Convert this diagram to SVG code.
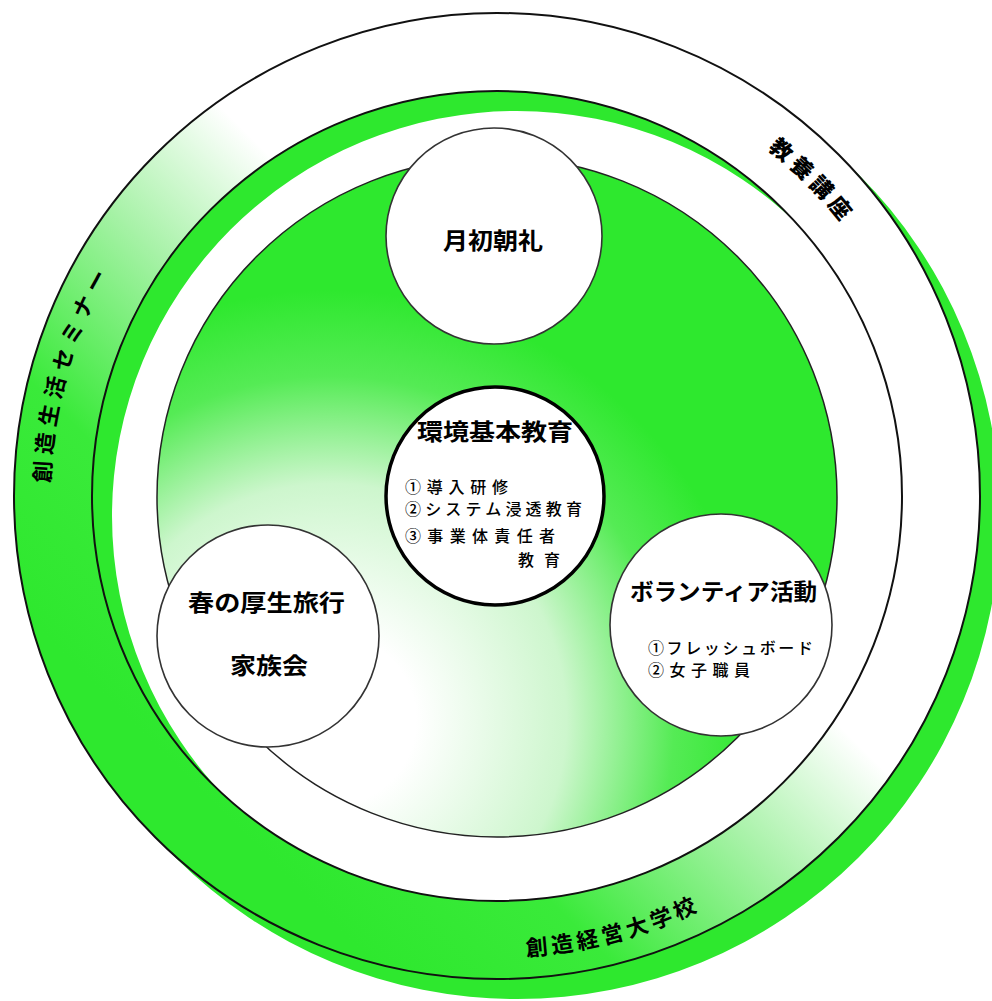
<svg xmlns="http://www.w3.org/2000/svg" width="992" height="1001" viewBox="0 0 992 1001">
<style>
text{font-family:"Noto Sans CJK JP","Noto Sans CJK SC",sans-serif;fill:#000}
.h{font-weight:700;font-size:23px}
.s{font-weight:500;font-size:16px}
.arc{font-weight:700;font-size:22px}
.node{fill:#fff;stroke:#333;stroke-width:1.6}
</style>
<defs>
<linearGradient id="gBand" gradientUnits="userSpaceOnUse" x1="200" y1="790" x2="600" y2="390">
<stop offset="0" stop-color="#2ee82e"/>
<stop offset="0.3" stop-color="#3aea3a"/>
<stop offset="0.62" stop-color="#a8f2a8"/>
<stop offset="0.88" stop-color="#ffffff"/>
<stop offset="1" stop-color="#ffffff"/>
</linearGradient>
<radialGradient id="gDisk" gradientUnits="userSpaceOnUse" cx="330" cy="720" r="430">
<stop offset="0" stop-color="#ffffff"/>
<stop offset="0.2" stop-color="#ffffff"/>
<stop offset="0.55" stop-color="#cdf6cd"/>
<stop offset="0.8" stop-color="#55eb55"/>
<stop offset="1" stop-color="#2ee82e"/>
</radialGradient>
<path id="pLeft" d="M 63.3,604.1 A 447,447 0 0,1 186.5,174.5" fill="none"/>
<path id="pBottom" d="M 377.7,941.3 A 461,461 0 0,0 823,822" fill="none"/>
<path id="pTop" d="M 610.9,71 A 440,440 0 0,1 922,382.1" fill="none"/>
</defs>

<g id="outer-ring">
<path transform="translate(20,20)" fill="#2ee82e" fill-rule="evenodd" d="M 14,496 A 483,483 0 1,0 980,496 A 483,483 0 1,0 14,496 Z M 92,496 A 405,405 0 1,1 902,496 A 405,405 0 1,1 92,496 Z"/>
<path fill="url(#gBand)" fill-rule="evenodd" stroke="#111" stroke-width="2" d="M 14,496 A 483,483 0 1,0 980,496 A 483,483 0 1,0 14,496 Z M 92,496 A 405,405 0 1,1 902,496 A 405,405 0 1,1 92,496 Z"/>
<text class="arc" letter-spacing="6"><textPath href="#pLeft" startOffset="50%" text-anchor="middle">創造生活セミナー</textPath></text>
<text class="arc" font-size="24" letter-spacing="4"><textPath href="#pBottom" startOffset="50%" text-anchor="middle">創造経営大学校</textPath></text>
<text class="arc" style="font-weight:900" letter-spacing="5"><textPath href="#pTop" startOffset="50%" text-anchor="middle">教養講座</textPath></text>
</g>

<g id="green-disk">
<circle cx="497" cy="497" r="340" fill="url(#gDisk)" stroke="#222" stroke-width="1.5"/>
</g>

<g id="node-gessho">
<circle class="node" cx="494" cy="236" r="108"/>
<text class="h" x="443" y="249" textLength="100" lengthAdjust="spacingAndGlyphs">月初朝礼</text>
</g>

<g id="node-center">
<circle cx="495" cy="496" r="109" fill="#fff" stroke="#000" stroke-width="3.5"/>
<text class="h" x="417" y="440" textLength="156" lengthAdjust="spacingAndGlyphs">環境基本教育</text>
<text class="s" x="405" y="493" textLength="103" lengthAdjust="spacing">①導入研修</text>
<text class="s" x="405" y="515" textLength="177" lengthAdjust="spacing">②システム浸透教育</text>
<text class="s" x="405" y="542" textLength="150" lengthAdjust="spacing">③事業体責任者</text>
<text class="s" x="518" y="566" textLength="42" lengthAdjust="spacing">教育</text>
</g>

<g id="node-spring">
<circle class="node" cx="268" cy="636" r="111"/>
<text class="h" x="188" y="611" textLength="157" lengthAdjust="spacingAndGlyphs">春の厚生旅行</text>
<text class="h" x="230" y="674" textLength="78" lengthAdjust="spacingAndGlyphs">家族会</text>
</g>

<g id="node-volunteer">
<circle class="node" cx="721" cy="625" r="111"/>
<text class="h" x="630" y="600" textLength="187" lengthAdjust="spacingAndGlyphs">ボランティア活動</text>
<text class="s" x="648" y="654" textLength="165" lengthAdjust="spacing">①フレッシュボード</text>
<text class="s" x="648" y="676" textLength="102" lengthAdjust="spacing">②女子職員</text>
</g>

<g id="connectors"></g>
</svg>
